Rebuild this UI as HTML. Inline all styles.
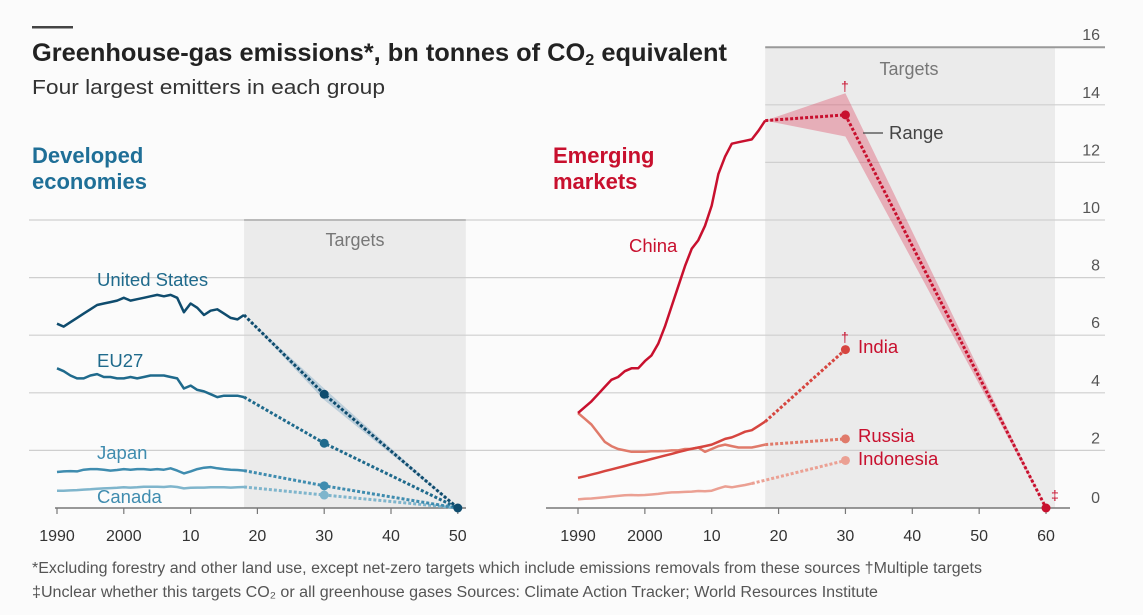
<!DOCTYPE html>
<html><head><meta charset="utf-8"><style>
html,body{margin:0;padding:0;background:#fbfbfb;}
svg{display:block;font-family:"Liberation Sans",sans-serif;}
</style></head><body>
<svg id="c" width="1143" height="615" viewBox="0 0 1143 615">
<rect x="0" y="0" width="1143" height="615" fill="#fbfbfb"/>
<rect x="32" y="26" width="41" height="2.5" fill="#444"/>
<text x="32" y="61" font-size="25" font-weight="bold" fill="#222" textLength="695" lengthAdjust="spacingAndGlyphs">Greenhouse-gas emissions*, bn tonnes of CO<tspan font-size="16" dy="4">2</tspan><tspan dy="-4"> equivalent</tspan></text>
<text x="32" y="94" font-size="20" fill="#333" textLength="353" lengthAdjust="spacingAndGlyphs">Four largest emitters in each group</text>
<text x="32" y="163" font-size="22" font-weight="bold" fill="#1f6f97">Developed</text>
<text x="32" y="189" font-size="22" font-weight="bold" fill="#1f6f97">economies</text>
<text x="553" y="163" font-size="22" font-weight="bold" fill="#c8102e">Emerging</text>
<text x="553" y="189" font-size="22" font-weight="bold" fill="#c8102e">markets</text>
<g id="plot"></g>
<text x="32" y="573" font-size="15.5" fill="#555" textLength="950" lengthAdjust="spacingAndGlyphs">*Excluding forestry and other land use, except net-zero targets which include emissions removals from these sources  †Multiple targets</text>
<text x="32" y="597" font-size="15.5" fill="#555" textLength="846" lengthAdjust="spacingAndGlyphs">‡Unclear whether this targets CO₂ or all greenhouse gases    Sources: Climate Action Tracker; World Resources Institute</text>
</svg>
<script>
const yTicks=[0,2,4,6,8,10,12,14,16];
const leftXTicks=[1990,2000,2010,2020,2030,2040,2050];
const leftXLabels=["1990","2000","10","20","30","40","50"];
const rightXTicks=[1990,2000,2010,2020,2030,2040,2050,2060];
const rightXLabels=["1990","2000","10","20","30","40","50","60"];
const histYears=[1990,1991,1992,1993,1994,1995,1996,1997,1998,1999,2000,2001,2002,2003,2004,2005,2006,2007,2008,2009,2010,2011,2012,2013,2014,2015,2016,2017,2018];
const usValues=[6.4,6.3,6.45,6.6,6.75,6.9,7.05,7.1,7.15,7.2,7.3,7.2,7.25,7.3,7.35,7.4,7.35,7.4,7.3,6.8,7.1,6.95,6.7,6.85,6.9,6.75,6.6,6.55,6.7];
const euValues=[4.85,4.75,4.6,4.5,4.5,4.6,4.65,4.55,4.55,4.5,4.5,4.55,4.5,4.55,4.6,4.6,4.6,4.55,4.5,4.15,4.25,4.1,4.05,3.95,3.85,3.9,3.9,3.9,3.85];
const japanValues=[1.25,1.27,1.28,1.27,1.33,1.35,1.35,1.33,1.3,1.32,1.35,1.33,1.35,1.35,1.33,1.35,1.33,1.38,1.3,1.2,1.27,1.35,1.4,1.42,1.38,1.35,1.33,1.32,1.3];
const canadaValues=[0.6,0.6,0.61,0.62,0.64,0.65,0.67,0.68,0.69,0.7,0.72,0.71,0.72,0.74,0.74,0.74,0.73,0.75,0.73,0.68,0.7,0.71,0.71,0.72,0.72,0.72,0.71,0.72,0.73];
const chinaValues=[3.3,3.5,3.7,3.95,4.2,4.45,4.55,4.75,4.85,4.85,5.1,5.3,5.7,6.3,7.0,7.7,8.4,9.0,9.3,9.8,10.5,11.6,12.2,12.65,12.7,12.75,12.8,13.1,13.45];
const indiaValues=[1.05,1.1,1.16,1.22,1.28,1.34,1.4,1.46,1.52,1.58,1.64,1.7,1.76,1.82,1.88,1.94,2.0,2.06,2.1,2.15,2.2,2.3,2.4,2.45,2.55,2.65,2.7,2.85,3.0];
const russiaValues=[3.3,3.1,2.9,2.6,2.3,2.15,2.05,2.0,1.95,1.95,1.95,1.97,1.97,1.98,2.0,2.0,2.05,2.05,2.1,1.95,2.05,2.15,2.2,2.15,2.1,2.1,2.1,2.15,2.2];
const indonesiaValues=[0.3,0.32,0.33,0.35,0.37,0.4,0.42,0.44,0.45,0.44,0.45,0.47,0.49,0.52,0.54,0.55,0.56,0.57,0.59,0.58,0.6,0.68,0.75,0.72,0.76,0.8,0.85];
const indonesiaYears=histYears.slice(0,27);
const targetYears=[2018,2030,2050];
const usTarget=[6.7,3.95,0];
const euTarget=[3.85,2.25,0];
const japanTarget=[1.3,0.77,0];
const canadaTarget=[0.73,0.45,0];
const chinaTargetYears=[2018,2030,2060];
const chinaTarget=[13.45,13.65,0];
const chinaRangeHigh=[13.45,14.4,0];
const chinaRangeLow=[13.45,12.9,0];
const usRangeHigh=[6.7,4.15,0];
const usRangeLow=[6.7,3.75,0];
const emTargetYears=[2018,2030];
const indiaTarget=[3.0,5.5];
const russiaTarget=[2.2,2.4];
const indonesiaTargetYears=[2016,2030];
const indonesiaTarget=[0.85,1.65];

const NS="http://www.w3.org/2000/svg";
const g=document.getElementById('plot');
function mk(tag,attrs,parent){const e=document.createElementNS(NS,tag);for(const k in attrs)e.setAttribute(k,attrs[k]);(parent||g).appendChild(e);return e;}
const yS=v=>508-v*28.8;
const xL=yr=>57+(yr-1990)*6.68;
const xR=yr=>578+(yr-1990)*6.686;
function pts(xs,ys,xf){return xs.map((x,i)=>xf(x).toFixed(1)+','+yS(ys[i]).toFixed(1)).join(' ');}

let e;
e=mk('rect',{x:xL(2018),y:yS(10),width:xL(2050)-xL(2018)+8,height:yS(0)-yS(10),fill:'#ebebeb'});


e=mk('rect',{x:xR(2018),y:yS(16),width:xR(2060)-xR(2018)+9,height:yS(0)-yS(16),fill:'#ebebeb'});


e=mk('line',{x1:xL(2018),x2:xL(2050)+8,y1:yS(10),y2:yS(10),stroke:'#999','stroke-width':2});



yTicks.forEach(v=>{
  if(v===0)return;
  const x1=v<=10?29:xR(2018);
  const l=mk('line',{x1:x1,x2:1105,y1:yS(v),y2:yS(v),stroke:v===16?'#999':'#cfcfcf','stroke-width':v===16?2:1.2});
  
  
  const t=mk('text',{x:1100,y:yS(v)-7,'text-anchor':'end','font-size':16,fill:'#555'});
  t.textContent=v;
  
  
});
e=mk('text',{x:1100,y:yS(0)-5,'text-anchor':'end','font-size':16,fill:'#555'});
e.textContent='0';



e=mk('line',{x1:55,x2:466,y1:yS(0),y2:yS(0),stroke:'#777','stroke-width':1.5});


e=mk('line',{x1:546,x2:1070,y1:yS(0),y2:yS(0),stroke:'#777','stroke-width':1.5});


leftXTicks.forEach((yr,i)=>{
  const l=mk('line',{x1:xL(yr),x2:xL(yr),y1:yS(0),y2:yS(0)+6,stroke:'#777','stroke-width':1.2});
  
  
  const t=mk('text',{x:xL(yr),y:541,'text-anchor':'middle','font-size':16,fill:'#333'});
  t.textContent=leftXLabels[i];
  
  
});
rightXTicks.forEach((yr,i)=>{
  const l=mk('line',{x1:xR(yr),x2:xR(yr),y1:yS(0),y2:yS(0)+6,stroke:'#777','stroke-width':1.2});
  
  
  const t=mk('text',{x:xR(yr),y:541,'text-anchor':'middle','font-size':16,fill:'#333'});
  t.textContent=rightXLabels[i];
  
  
});

e=mk('text',{x:355,y:246,'text-anchor':'middle','font-size':18,fill:'#777'});
e.textContent='Targets';


e=mk('text',{x:909,y:75,'text-anchor':'middle','font-size':18,fill:'#777'});
e.textContent='Targets';



function poly(xs,hi,lo,xf,fill,name){
  const p=pts(xs,hi,xf)+' '+pts(xs.slice().reverse(),lo.slice().reverse(),xf);
  const el=mk('polygon',{points:p,fill:fill});
  
  
}
poly(targetYears,usRangeHigh,usRangeLow,xL,'rgba(80,140,180,0.3)','us-target-range');
poly(chinaTargetYears,chinaRangeHigh,chinaRangeLow,xR,'rgba(220,60,90,0.35)','china-target-range');

function series(xs,ys,xf,col,name,w){
  const el=mk('polyline',{points:pts(xs,ys,xf),fill:'none',stroke:col,'stroke-width':w||2.5,'stroke-linejoin':'round'});
  
  
}
function target(xs,ys,xf,col,name,dotIdx){
  const el=mk('polyline',{points:pts(xs,ys,xf),fill:'none',stroke:col,'stroke-width':3,'stroke-dasharray':'3,2'});
  
  
  dotIdx.forEach(i=>{
    const c=mk('circle',{cx:xf(xs[i]),cy:yS(ys[i]),r:4.5,fill:col});
    
    
  });
}
const cUS='#0f4c6e',cEU='#1f6a8c',cJP='#3f8caf',cCA='#7fb5cc';
const cCN='#c8102e',cIN='#d6453f',cRU='#e07a6a',cID='#eba093';
series(histYears,canadaValues,xL,cCA,'canada-line');
series(histYears,japanValues,xL,cJP,'japan-line');
series(histYears,euValues,xL,cEU,'eu27-line');
series(histYears,usValues,xL,cUS,'us-line');
target(targetYears,canadaTarget,xL,cCA,'canada-target',[1]);
target(targetYears,japanTarget,xL,cJP,'japan-target',[1]);
target(targetYears,euTarget,xL,cEU,'eu27-target',[1]);
target(targetYears,usTarget,xL,cUS,'us-target',[1,2]);

series(indonesiaYears,indonesiaValues,xR,cID,'indonesia-line');
series(histYears,russiaValues,xR,cRU,'russia-line');
series(histYears,indiaValues,xR,cIN,'india-line');
series(histYears,chinaValues,xR,cCN,'china-line');
target(indonesiaTargetYears,indonesiaTarget,xR,cID,'indonesia-target',[1]);
target(emTargetYears,russiaTarget,xR,cRU,'russia-target',[1]);
target(emTargetYears,indiaTarget,xR,cIN,'india-target',[1]);
target(chinaTargetYears,chinaTarget,xR,cCN,'china-target',[1,2]);

function label(x,y,txt,col,name,size){
  const t=mk('text',{x:x,y:y,'font-size':size||18.5,fill:col});
  t.textContent=txt;
  
  
}
label(97,286,'United States',cEU,'us-label');
label(97,367,'EU27',cEU,'eu27-label');
label(97,459,'Japan',cJP,'japan-label');
label(97,503,'Canada',cJP,'canada-label');
label(629,252,'China',cCN,'china-label');
label(858,353,'India',cCN,'india-label');
label(858,442,'Russia',cCN,'russia-label');
label(858,465,'Indonesia',cCN,'indonesia-label');
label(889,139,'Range','#444','range-label');
e=mk('line',{x1:863,x2:883,y1:133,y2:133,stroke:'#444','stroke-width':1.3});


label(841,91,'†',cCN,'china-dagger',14);
label(841,342,'†',cCN,'india-dagger',14);
label(1051,500,'‡',cCN,'china-double-dagger',14);
</script>
</body></html>
